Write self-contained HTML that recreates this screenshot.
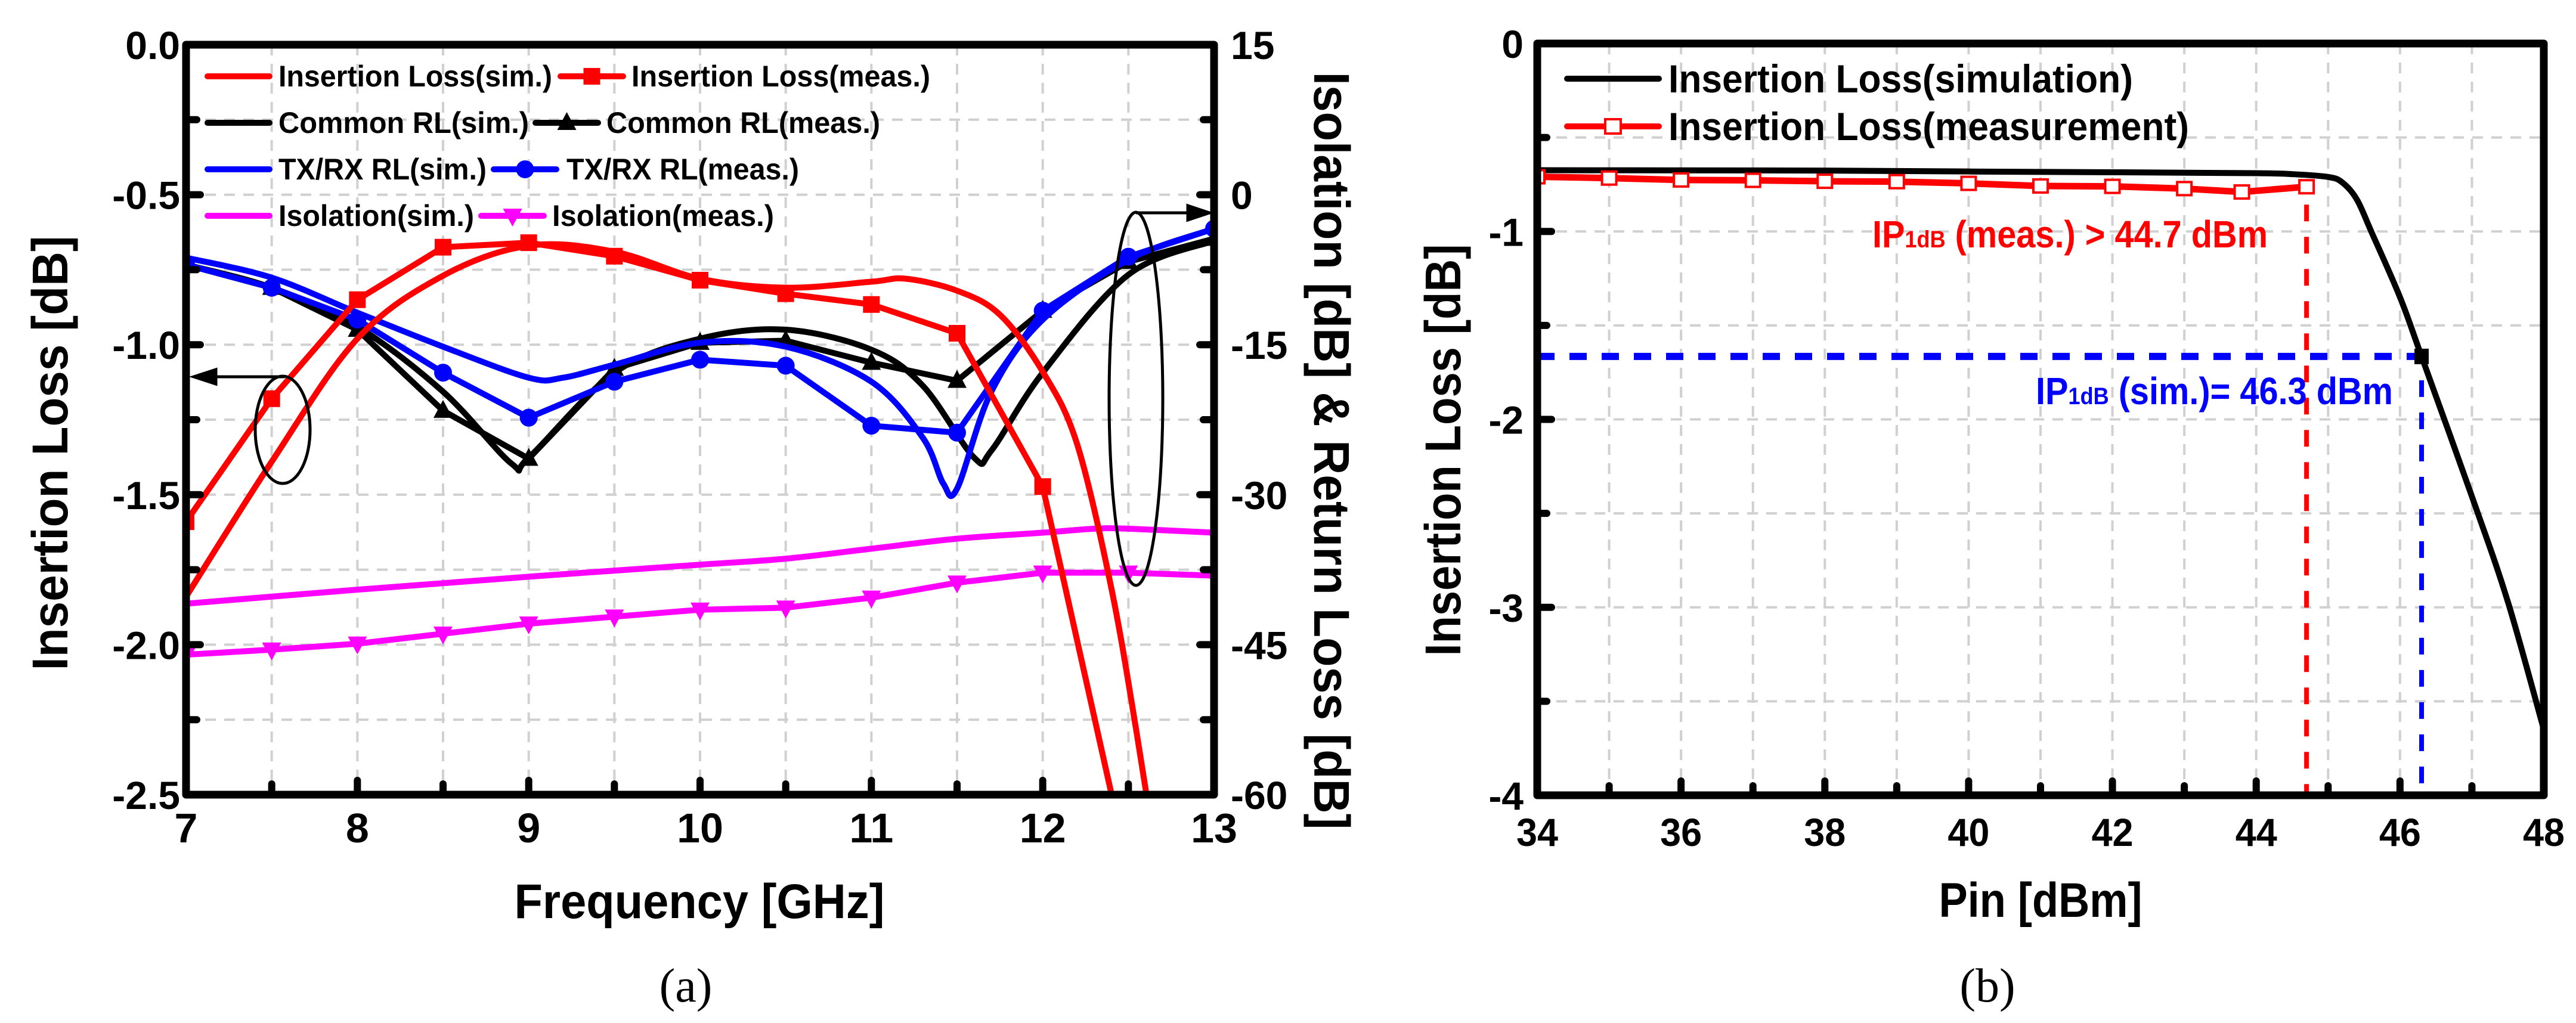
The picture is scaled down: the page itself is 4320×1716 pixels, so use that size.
<!DOCTYPE html>
<html><head><meta charset="utf-8">
<style>
html,body{margin:0;padding:0;background:#fff;}
svg{display:block;}
text{font-family:"Liberation Sans",Arial,sans-serif;font-weight:bold;}
</style></head>
<body>
<svg id="fig" width="4320" height="1716" viewBox="0 0 4320 1716" xmlns="http://www.w3.org/2000/svg">
<defs>
<clipPath id="clipA"><rect x="312" y="75" width="1724" height="1258"/></clipPath>
<clipPath id="clipB"><rect x="2578" y="73" width="1688" height="1261"/></clipPath>
</defs>
<g id="gA"></g>
<g id="gB"></g>
</svg>
<script>
// ---------- Chart (a) data ----------
const aFreqTicks = [7,8,9,10,11,12,13];
const aLeftTicks = ["0.0","-0.5","-1.0","-1.5","-2.0","-2.5"];
const aLeftTickVals = [0,-0.5,-1.0,-1.5,-2.0,-2.5];
const aRightTickVals = [15,0,-15,-30,-45,-60];
const ilSimX = [7,7.5,8,8.5,9,9.5,10,10.5,11,11.2,11.5,11.75,12,12.2,12.4,12.55,12.7];
const ilSimY = [-1.84,-1.39,-0.98,-0.77,-0.67,-0.69,-0.78,-0.81,-0.79,-0.78,-0.82,-0.9,-1.09,-1.33,-1.81,-2.3,-2.85];
const ilMeasX = [7,7.5,8,8.5,9,9.5,10,10.5,11,11.5,12];
const ilMeasY = [-1.59,-1.18,-0.85,-0.675,-0.66,-0.705,-0.785,-0.83,-0.866,-0.962,-1.473];
const ilMeasTailX = [12,12.5];
const ilMeasTailY = [-1.473,-2.75];
const crSimX = [7,7.5,8,8.5,8.9,9,9.5,10,10.5,11,11.3,11.6,11.7,12,12.5,13];
const crSimY = [-7.0,-9.3,-13.2,-19.7,-26.9,-26.3,-17.8,-14.4,-13.5,-15.5,-19.1,-26.3,-25.6,-17.8,-8.0,-4.6];
const crMeasX = [7,7.5,8,8.5,9,9.5,10,10.5,11,11.5,12,12.5,13];
const crMeasY = [-7.0,-9.3,-13.5,-21.6,-26.4,-17.4,-14.8,-14.6,-16.8,-18.6,-11.6,-6.7,-4.4];
const txSimX = [7,7.5,8,8.5,9,9.2,9.5,10,10.5,11,11.3,11.42,11.5,11.7,12,12.5,13];
const txSimY = [-6.3,-8.3,-11.8,-15.2,-18.3,-18.3,-17.0,-14.8,-15.2,-18.7,-24.3,-28.9,-29.4,-19.7,-12.5,-6.5,-3.4];
const txMeasX = [7,7.5,8,8.5,9,9.5,10,10.5,11,11.5,12,12.5,13];
const txMeasY = [-7.0,-9.3,-12.5,-17.8,-22.3,-18.7,-16.5,-17.1,-23.1,-23.8,-11.6,-6.2,-3.4];
const isoSimX = [7,8,9,10,10.5,11,11.5,12,12.3,12.5,13];
const isoSimY = [-40.9,-39.5,-38.2,-37.0,-36.4,-35.4,-34.4,-33.8,-33.4,-33.4,-33.8];
const isoMeasX = [7,7.5,8,8.5,9,9.5,10,10.5,11,11.5,12,12.5,13];
const isoMeasY = [-46.0,-45.5,-44.9,-43.9,-42.9,-42.2,-41.5,-41.3,-40.3,-38.8,-37.8,-37.8,-38.1];
// ---------- Chart (b) data ----------
const bPinTicks = [34,36,38,40,42,44,46,48];
const bYTicks = [0,-1,-2,-3,-4];
const bSimX = [34,36,38,40,42,44,44.5,45,45.2,45.4,45.6,46,46.3,47,47.5,48];
const bSimY = [-0.674,-0.675,-0.676,-0.681,-0.685,-0.69,-0.695,-0.71,-0.74,-0.83,-1.0,-1.35,-1.665,-2.41,-2.97,-3.65];
const bMeasX = [34,35,36,37,38,39,40,41,42,43,43.8,44.7];
const bMeasY = [-0.709,-0.716,-0.726,-0.728,-0.733,-0.735,-0.744,-0.758,-0.76,-0.772,-0.79,-0.762];
const bIP1dBMeas = [44.7];
const bIP1dBSim = [46.3, -1.665];

const NS = "http://www.w3.org/2000/svg";
function mk(parent, tag, attrs, txt){
  const e = document.createElementNS(NS, tag);
  for (const k in attrs) e.setAttribute(k, attrs[k]);
  if (txt !== undefined) e.textContent = txt;
  parent.appendChild(e);
  return e;
}
function smoothPath(pts){
  let d = "M" + pts[0][0] + "," + pts[0][1];
  for (let i=0;i<pts.length-1;i++){
    const p0 = pts[i-1]||pts[i], p1=pts[i], p2=pts[i+1], p3=pts[i+2]||pts[i+1];
    const c1x = p1[0]+(p2[0]-p0[0])/6, c1y = p1[1]+(p2[1]-p0[1])/6;
    const c2x = p2[0]-(p3[0]-p1[0])/6, c2y = p2[1]-(p3[1]-p1[1])/6;
    d += " C"+c1x+","+c1y+" "+c2x+","+c2y+" "+p2[0]+","+p2[1];
  }
  return d;
}
function polyPath(pts){ return "M"+pts.map(p=>p[0]+","+p[1]).join(" L"); }

// ================= Chart A =================
(function(){
  const g = document.getElementById('gA');
  const L=312,R=2036,T=75,B=1333;
  const xs = v => L + (v-7)/6*(R-L);
  const yl = v => T + (0-v)/2.5*(B-T);
  const yr = v => T + (15-v)/75*(B-T);
  const grid = mk(g,'g',{});
  
  
  for (let f=7.5; f<13; f+=0.5){
    mk(grid,'line',{x1:xs(f),x2:xs(f),y1:T,y2:B,stroke:'#d0d0d0','stroke-width':4,'stroke-dasharray':'18,14'});
  }
  for (let v=-0.25; v>-2.5; v-=0.25){
    mk(grid,'line',{x1:L,x2:R,y1:yl(v),y2:yl(v),stroke:'#d0d0d0','stroke-width':4,'stroke-dasharray':'18,14'});
  }
  const plot = mk(g,'g',{'clip-path':'url(#clipA)'});
  
  
  function series(name,X,Y,scale,color,smooth){
    const pts = X.map((x,i)=>[xs(x),scale(Y[i])]);
    const p = mk(plot,'path',{d: smooth?smoothPath(pts):polyPath(pts),fill:'none',stroke:color,'stroke-width':10,'stroke-linejoin':'round','stroke-linecap':'round'});
    
    
    return pts;
  }
  function markers(name,pts,color,shape){
    const mg = mk(plot,'g',{});
    
    
    pts.forEach(p=>{
      let m;
      if (shape==='square') m = mk(mg,'rect',{x:p[0]-14,y:p[1]-14,width:28,height:28,fill:color});
      else if (shape==='circle') m = mk(mg,'circle',{cx:p[0],cy:p[1],r:15,fill:color});
      else if (shape==='tri') m = mk(mg,'polygon',{points:(p[0])+","+(p[1]-18)+" "+(p[0]-16)+","+(p[1]+12)+" "+(p[0]+16)+","+(p[1]+12),fill:color});
      else m = mk(mg,'polygon',{points:(p[0])+","+(p[1]+18)+" "+(p[0]-16)+","+(p[1]-12)+" "+(p[0]+16)+","+(p[1]-12),fill:color});
      
      
    });
  }
  series('isolation-sim-line',isoSimX,isoSimY,yr,'#ff00ff',true);
  const ism = series('isolation-meas-line',isoMeasX,isoMeasY,yr,'#ff00ff',false);
  markers('isolation-meas-markers',ism,'#ff00ff','tridown');
  series('common-rl-sim-line',crSimX,crSimY,yr,'#000',true);
  const crm = series('common-rl-meas-line',crMeasX,crMeasY,yr,'#000',false);
  markers('common-rl-meas-markers',crm,'#000','tri');
  series('txrx-rl-sim-line',txSimX,txSimY,yr,'#0000ff',true);
  const txm = series('txrx-rl-meas-line',txMeasX,txMeasY,yr,'#0000ff',false);
  markers('txrx-rl-meas-markers',txm,'#0000ff','circle');
  series('insertion-loss-sim-line',ilSimX,ilSimY,yl,'#ff0000',true);
  const ilm = series('insertion-loss-meas-line',ilMeasX,ilMeasY,yl,'#ff0000',false);
  series('insertion-loss-meas-tail',ilMeasTailX,ilMeasTailY,yl,'#ff0000',false);
  markers('insertion-loss-meas-markers',ilm,'#ff0000','square');
  const ann = mk(g,'g',{fill:'none',stroke:'#000','stroke-width':5});
  
  
  mk(ann,'ellipse',{cx:474,cy:721,rx:46,ry:90});
  mk(ann,'line',{x1:477,y1:632,x2:340,y2:632});
  mk(ann,'polygon',{points:"325,632 362,620 362,644",fill:'#000'});
  mk(ann,'ellipse',{cx:1905,cy:669,rx:45,ry:313});
  mk(ann,'line',{x1:1905,y1:357,x2:2012,y2:357});
  mk(ann,'polygon',{points:"2028,357 1992,345 1992,369",fill:'#000'});
  const tk = mk(g,'g',{stroke:'#000','stroke-width':12,'stroke-linecap':'round'});
  
  
  for (let f=7; f<=13.001; f+=0.5){ mk(tk,'line',{x1:xs(f),x2:xs(f),y1:B,y2:B-((f%1===0)?24:18)}); }
  for (let v=0; v>=-2.5; v-=0.25){ mk(tk,'line',{x1:L,x2:L+(Math.abs(v*2%1)<1e-6?24:18),y1:yl(v),y2:yl(v)}); }
  for (let v=15; v>=-60; v-=7.5){ mk(tk,'line',{x1:R,x2:R-(Math.abs(v%15)<1e-6?24:18),y1:yr(v),y2:yr(v)}); }
  const fr = mk(g,'rect',{x:L,y:T,width:R-L,height:B-T,fill:'none',stroke:'#000','stroke-width':13,'stroke-linejoin':'round'});
  
  
  aFreqTicks.forEach(f=>{
    const t = mk(g,'text',{x:xs(f),y:1413,'font-size':70,'text-anchor':'middle'},String(f));
    
    
  });
  aLeftTickVals.forEach((v,i)=>{
    const t = mk(g,'text',{x:302,y:yl(v)+24,'font-size':66,'text-anchor':'end'},aLeftTicks[i]);
    
    
  });
  aRightTickVals.forEach(v=>{
    const t = mk(g,'text',{x:2064,y:yr(v)+24,'font-size':66,'text-anchor':'start'},String(v));
    
    
  });
  let t = mk(g,'text',{x:1173,y:1540,'font-size':82,'text-anchor':'middle',textLength:621,lengthAdjust:'spacingAndGlyphs'},'Frequency [GHz]');
   
  t = mk(g,'text',{x:0,y:0,'font-size':84,'text-anchor':'middle',textLength:729,lengthAdjust:'spacingAndGlyphs',transform:'translate(113,760) rotate(-90)'},'Insertion Loss [dB]');
   
  t = mk(g,'text',{x:0,y:0,'font-size':84,'text-anchor':'middle',textLength:1271,lengthAdjust:'spacingAndGlyphs',transform:'translate(2204,756) rotate(90)'},'Isolation [dB] & Return Loss [dB]');
   
  t = mk(g,'text',{x:1150,y:1680,'font-size':80,'text-anchor':'middle',style:'font-family:"Liberation Serif",serif;font-weight:normal'},'(a)');
   
  const lg = mk(g,'g',{});
  
  
  const legendItems = [
    [348,452,467,459,128,'#ff0000','Insertion Loss(sim.)',null],
    [940,1045,1059,501,128,'#ff0000','Insertion Loss(meas.)','square'],
    [348,452,467,420,206,'#000','Common RL(sim.)',null],
    [898,1003,1017,459,206,'#000','Common RL(meas.)','tri'],
    [348,452,467,349,284,'#0000ff','TX/RX RL(sim.)',null],
    [828,933,950,390,284,'#0000ff','TX/RX RL(meas.)','circle'],
    [348,452,467,328,362,'#ff00ff','Isolation(sim.)',null],
    [807,912,926,372,362,'#ff00ff','Isolation(meas.)','tridown']
  ];
  legendItems.forEach(it=>{
    const e = mk(lg,'g',{});
    
    
    mk(e,'line',{x1:it[0],x2:it[1],y1:it[4],y2:it[4],stroke:it[5],'stroke-width':10,'stroke-linecap':'round'});
    const cx=(it[0]+it[1])/2, cy=it[4];
    if (it[7]==='square') mk(e,'rect',{x:cx-14,y:cy-14,width:28,height:28,fill:it[5]});
    if (it[7]==='circle') mk(e,'circle',{cx:cx,cy:cy,r:15,fill:it[5]});
    if (it[7]==='tri') mk(e,'polygon',{points:cx+","+(cy-18)+" "+(cx-16)+","+(cy+12)+" "+(cx+16)+","+(cy+12),fill:it[5]});
    if (it[7]==='tridown') mk(e,'polygon',{points:cx+","+(cy+18)+" "+(cx-16)+","+(cy-12)+" "+(cx+16)+","+(cy-12),fill:it[5]});
    mk(e,'text',{x:it[2],y:it[4]+17,'font-size':50,textLength:it[3],lengthAdjust:'spacingAndGlyphs'},it[6]);
  });
})();

// ================= Chart B =================
(function(){
  const g = document.getElementById('gB');
  const L=2578,R=4266,T=73,B=1334;
  const xs = v => L + (v-34)/14*(R-L);
  const ys = v => T + (0-v)/4*(B-T);
  const grid = mk(g,'g',{});
  
  
  for (let p=35; p<48; p+=1){ mk(grid,'line',{x1:xs(p),x2:xs(p),y1:T,y2:B,stroke:'#d0d0d0','stroke-width':4,'stroke-dasharray':'18,14'}); }
  for (let v=-0.5; v>-4; v-=0.5){ mk(grid,'line',{x1:L,x2:R,y1:ys(v),y2:ys(v),stroke:'#d0d0d0','stroke-width':4,'stroke-dasharray':'18,14'}); }
  const plot = mk(g,'g',{'clip-path':'url(#clipB)'});
  
  
  const xm = xs(bIP1dBMeas[0]);
  let l = mk(plot,'line',{x1:xm,x2:xm,y1:ys(bMeasY[bMeasY.length-1])+30,y2:B+20,stroke:'#ff0000','stroke-width':8,'stroke-dasharray':'28,26'});
   
  l = mk(plot,'line',{x1:L,x2:xs(bIP1dBSim[0]),y1:ys(bIP1dBSim[1]),y2:ys(bIP1dBSim[1]),stroke:'#0000ff','stroke-width':12,'stroke-dasharray':'29,25'});
   
  l = mk(plot,'line',{x1:xs(bIP1dBSim[0]),x2:xs(bIP1dBSim[0]),y1:ys(bIP1dBSim[1])+40,y2:B,stroke:'#0000ff','stroke-width':8,'stroke-dasharray':'28,26'});
   
  const sp = bSimX.map((x,i)=>[xs(x),ys(bSimY[i])]);
  let p = mk(plot,'path',{d:smoothPath(sp),fill:'none',stroke:'#000','stroke-width':10,'stroke-linejoin':'round'});
   
  const mp = bMeasX.map((x,i)=>[xs(x),ys(bMeasY[i])]);
  p = mk(plot,'path',{d:polyPath(mp),fill:'none',stroke:'#ff0000','stroke-width':11,'stroke-linejoin':'round'});
   
  mp.forEach(q=>{
    const r = mk(plot,'rect',{x:q[0]-12,y:q[1]-11,width:24,height:22,fill:'#fff',stroke:'#ff0000','stroke-width':4});
     
  });
  const sq = mk(plot,'rect',{x:xs(bIP1dBSim[0])-12,y:ys(bIP1dBSim[1])-13,width:24,height:26,fill:'#000'});
   
  const tk = mk(g,'g',{stroke:'#000','stroke-width':12,'stroke-linecap':'round'});
   
  for (let x=34; x<=48; x+=1){ mk(tk,'line',{x1:xs(x),x2:xs(x),y1:B,y2:B-(x%2===0?24:16)}); }
  for (let v=0; v>=-4; v-=0.5){ mk(tk,'line',{x1:L,x2:L+(v%1===0?24:16),y1:ys(v),y2:ys(v)}); }
  const fr = mk(g,'rect',{x:L,y:T,width:R-L,height:B-T,fill:'none',stroke:'#000','stroke-width':13,'stroke-linejoin':'round'});
   
  bPinTicks.forEach(v=>{
    const t = mk(g,'text',{x:xs(v),y:1419,'font-size':66,'text-anchor':'middle',textLength:70,lengthAdjust:'spacingAndGlyphs'},String(v));
     
  });
  bYTicks.forEach(v=>{
    const t = mk(g,'text',{x:2555,y:ys(v)+24,'font-size':66,'text-anchor':'end'},String(v));
     
  });
  let t = mk(g,'text',{x:3422,y:1538,'font-size':82,'text-anchor':'middle',textLength:341,lengthAdjust:'spacingAndGlyphs'},'Pin [dBm]');
   
  t = mk(g,'text',{x:0,y:0,'font-size':84,'text-anchor':'middle',textLength:691,lengthAdjust:'spacingAndGlyphs',transform:'translate(2449,755) rotate(-90)'},'Insertion Loss [dB]');
   
  t = mk(g,'text',{x:3333,y:1680,'font-size':80,'text-anchor':'middle',style:'font-family:"Liberation Serif",serif;font-weight:normal'},'(b)');
   
  t = mk(g,'text',{x:3140,y:415,'font-size':64,fill:'#ff0000',textLength:663,lengthAdjust:'spacingAndGlyphs'});
   
  mk(t,'tspan',{},'IP');
  mk(t,'tspan',{'font-size':40},'1dB');
  mk(t,'tspan',{},' (meas.) > 44.7 dBm');
  t = mk(g,'text',{x:3414,y:678,'font-size':64,fill:'#0000ff',textLength:599,lengthAdjust:'spacingAndGlyphs'});
   
  mk(t,'tspan',{},'IP');
  mk(t,'tspan',{'font-size':40},'1dB');
  mk(t,'tspan',{},' (sim.)= 46.3 dBm');
  const lg = mk(g,'g',{});
   
  let e = mk(lg,'g',{});
   
  mk(e,'line',{x1:2628,x2:2782,y1:132,y2:132,stroke:'#000','stroke-width':10,'stroke-linecap':'round'});
  mk(e,'text',{x:2798,y:155,'font-size':66,textLength:779,lengthAdjust:'spacingAndGlyphs'},'Insertion Loss(simulation)');
  e = mk(lg,'g',{});
   
  mk(e,'line',{x1:2628,x2:2782,y1:212,y2:212,stroke:'#ff0000','stroke-width':10,'stroke-linecap':'round'});
  mk(e,'rect',{x:2692,y:200,width:26,height:24,fill:'#fff',stroke:'#ff0000','stroke-width':4});
  mk(e,'text',{x:2798,y:235,'font-size':66,textLength:873,lengthAdjust:'spacingAndGlyphs'},'Insertion Loss(measurement)');
})();
</script>
</body></html>
